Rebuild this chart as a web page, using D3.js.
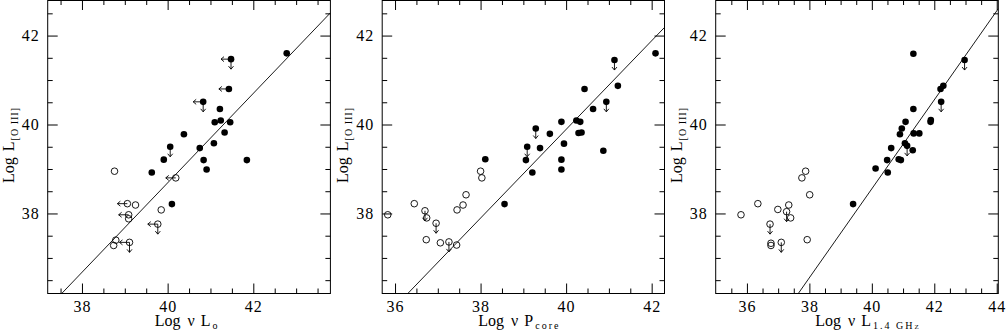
<!DOCTYPE html>
<html>
<head>
<meta charset="utf-8">
<script src="https://cdn.jsdelivr.net/npm/d3@7"></script>
<style>
  body { margin: 0; background: #fff; }
  svg { display: block; background: #fff; font-family: 'Liberation Serif', 'Times New Roman', serif; }
  .tick text { font-family: 'Liberation Serif', 'Times New Roman', serif; font-size: 16px; letter-spacing: 1px; fill: #000; }
  .tick line { stroke: #000; stroke-width: 1; }
  .frame { fill: none; stroke: #000; stroke-width: 1; }
  .fit { fill: none; stroke: #000; stroke-width: 0.9; }
  .limit { fill: none; stroke: #000; stroke-width: 0.9; }
  .title { font-size: 16px; fill: #000; white-space: pre; }
</style>
</head>
<body>
<svg id="chart" width="1007" height="330"></svg>
<script>
/*
  Three panels: log L[O III] against log nu L_o, log nu P_core and log nu L_1.4GHz
  Filled = detected, open = the other sample; L / D flag an upper limit on x / y
*/

// rows: [log x, log L[O III], limit flags]
const loDetected = [
  [42.78, 41.60, ''], [41.48, 41.47, 'LD'], [41.43, 40.80, 'L'], [40.83, 40.51, 'LD'],
  [41.22, 40.35, ''], [41.10, 40.05, ''], [41.24, 40.09, ''], [41.46, 40.05, ''],
  [40.38, 39.78, ''], [41.33, 39.82, ''], [40.06, 39.50, 'D'], [41.08, 39.58, ''],
  [40.75, 39.47, ''], [39.91, 39.21, ''], [40.84, 39.20, ''], [41.85, 39.20, ''],
  [39.63, 38.92, ''], [40.91, 38.99, ''], [40.10, 38.21, '']
];
const loOpen = [
  [38.76, 38.95, ''], [40.19, 38.80, 'L'], [39.06, 38.22, 'L'], [39.25, 38.19, ''],
  [39.85, 38.08, ''], [39.09, 37.97, 'L'], [39.09, 37.88, ''], [39.77, 37.76, 'LD'],
  [38.79, 37.40, ''], [38.74, 37.28, ''], [39.11, 37.35, 'LD']
];

const pcoreDetected = [
  [42.09, 41.60, ''], [41.13, 41.45, 'D'], [41.21, 40.87, ''], [40.43, 40.80, ''],
  [40.94, 40.51, 'D'], [40.63, 40.35, ''], [39.89, 40.06, ''], [40.24, 40.09, ''],
  [40.33, 40.06, ''], [40.29, 39.81, ''], [40.36, 39.82, ''], [39.62, 39.79, ''],
  [39.29, 39.91, 'D'], [39.95, 39.57, ''], [39.39, 39.47, ''], [39.09, 39.50, 'D'],
  [39.06, 39.20, ''], [39.89, 39.21, ''], [40.87, 39.41, ''], [38.11, 39.22, ''],
  [39.21, 38.92, ''], [39.89, 38.99, ''], [38.56, 38.21, '']
];
const pcoreOpen = [
  [35.83, 37.97, ''], [36.45, 38.22, ''], [36.70, 38.06, 'D'], [36.74, 37.90, ''],
  [36.96, 37.78, 'D'], [36.73, 37.41, ''], [37.06, 37.34, ''], [37.26, 37.36, 'D'],
  [37.44, 37.29, ''], [37.45, 38.08, ''], [37.59, 38.19, ''], [37.66, 38.42, ''],
  [38.00, 38.95, ''], [38.03, 38.80, '']
];

const radioDetected = [
  [41.33, 41.59, ''], [42.97, 41.45, 'D'], [42.29, 40.87, ''], [42.20, 40.80, ''],
  [42.22, 40.51, 'D'], [41.33, 40.35, ''], [41.89, 40.10, ''], [41.88, 40.06, ''],
  [41.08, 40.06, ''], [40.96, 39.91, ''], [40.90, 39.78, ''], [41.34, 39.80, ''],
  [41.52, 39.80, ''], [40.62, 39.47, ''], [41.06, 39.58, ''], [41.13, 39.52, 'D'],
  [41.31, 39.42, ''], [40.49, 39.20, ''], [40.86, 39.22, ''], [40.93, 39.20, ''],
  [40.12, 39.01, ''], [40.51, 38.92, ''], [39.40, 38.21, '']
];
const radioOpen = [
  [35.81, 37.97, ''], [36.35, 38.22, ''], [36.99, 38.09, ''], [37.34, 38.19, ''],
  [37.27, 38.04, 'D'], [37.40, 37.90, ''], [36.74, 37.76, 'D'], [36.77, 37.33, ''],
  [36.77, 37.28, ''], [37.10, 37.35, 'D'], [37.93, 37.41, ''], [38.01, 38.42, ''],
  [37.88, 38.95, ''], [37.76, 38.80, '']
];

// straight-line fits, one per panel
const fitSlopes = [1.006, 0.997, 1.0];
const fitIntercepts = [-1.552, 0.01, -1.445];

const yTickLabels = [38, 40, 42];
const xTickLabels = [[38, 40, 42], [36, 38, 40, 42], [36, 38, 40, 42, 44]];
const xLetters = ['L', 'P', 'L'];
const xSubscripts = ['o', 'core', '1.4 GHz'];

const panels = [
  { xDomain: [37.2, 43.8], left: 47.7, right: 330.4, titleShift: -3, detected: loDetected, open: loOpen },
  { xDomain: [35.7, 42.3], left: 382.2, right: 664.5, titleShift: -4, detected: pcoreDetected, open: pcoreOpen },
  { xDomain: [35, 44.05], left: 715.7, right: 998.3, titleShift: 11, detected: radioDetected, open: radioOpen }
];

const MAJOR = 10;
const MINOR = 5;
const ARROW = 10;

const svg = d3.select('#chart');

const y = d3.scaleLinear()
  .domain([36.2, 42.8])
  .range([293.5, 0]);

const yMinor = d3.range(36.5, 42.8, 0.5).filter(v => !yTickLabels.includes(v));

panels.forEach((p, i) => drawPanel(p, i));

/**
 * Draw one panel: frame, ticks, fit line, points and titles
 */
function drawPanel(p, i) {
  const x = d3.scaleLinear()
    .domain(p.xDomain)
    .range([p.left, p.right]);

  const g = svg.append('g').attr('class', 'panel');
  const top = y.range()[1];
  const bottom = y.range()[0];

  const xMajor = xTickLabels[i];
  const xMinor = d3.range(Math.ceil(p.xDomain[0] * 2) / 2, p.xDomain[1], 0.5)
    .filter(v => !xMajor.includes(v) && v > p.xDomain[0]);

  /*
   * Ticks on all four sides, pointing inwards
   */
  const axes = [
    { a: d3.axisBottom(x).tickValues(xMajor).tickSize(-MAJOR).tickPadding(7).tickFormat(d3.format('d')), t: `translate(0,${bottom})` },
    { a: d3.axisBottom(x).tickValues(xMinor).tickSize(-MINOR).tickFormat(''), t: `translate(0,${bottom})` },
    { a: d3.axisTop(x).tickValues(xMajor).tickSize(-MAJOR).tickFormat(''), t: `translate(0,${top})` },
    { a: d3.axisTop(x).tickValues(xMinor).tickSize(-MINOR).tickFormat(''), t: `translate(0,${top})` },
    { a: d3.axisLeft(y).tickValues(yTickLabels).tickSize(-MAJOR).tickPadding(8).tickFormat(d3.format('d')), t: `translate(${p.left},0)` },
    { a: d3.axisLeft(y).tickValues(yMinor).tickSize(-MINOR).tickFormat(''), t: `translate(${p.left},0)` },
    { a: d3.axisRight(y).tickValues(yTickLabels).tickSize(-MAJOR).tickFormat(''), t: `translate(${p.right},0)` },
    { a: d3.axisRight(y).tickValues(yMinor).tickSize(-MINOR).tickFormat(''), t: `translate(${p.right},0)` }
  ];

  axes.forEach(d => {
    const ax = g.append('g').attr('transform', d.t).call(d.a);
    ax.select('.domain').remove();
  });

  g.append('rect')
    .attr('class', 'frame')
    .attr('x', p.left)
    .attr('y', top + 0.5)
    .attr('width', p.right - p.left)
    .attr('height', bottom - top - 0.5);

  /*
   * Fit line, clipped to the frame
   */
  const clipId = `clip-${i}`;
  svg.append('clipPath').attr('id', clipId)
    .append('rect')
    .attr('x', p.left).attr('y', top)
    .attr('width', p.right - p.left).attr('height', bottom - top);

  const line = d3.line()
    .x(d => x(d))
    .y(d => y(fitSlopes[i] * d + fitIntercepts[i]));

  g.append('path')
    .attr('class', 'fit')
    .attr('clip-path', `url(#${clipId})`)
    .attr('d', line(p.xDomain));

  /*
   * Upper-limit arrows, then the points on top
   */
  const all = p.detected.concat(p.open);

  g.selectAll('path.limit')
    .data(all.filter(d => d[2] !== ''))
    .join('path')
    .attr('class', 'limit')
    .attr('d', d => limitPath(x(d[0]), y(d[1]), d[2]));

  g.selectAll('circle.open')
    .data(p.open)
    .join('circle')
    .attr('class', 'open')
    .attr('cx', d => x(d[0]))
    .attr('cy', d => y(d[1]))
    .attr('r', 3.3)
    .attr('fill', 'none')
    .attr('stroke', '#000')
    .attr('stroke-width', 0.9);

  g.selectAll('circle.det')
    .data(p.detected)
    .join('circle')
    .attr('class', 'det')
    .attr('cx', d => x(d[0]))
    .attr('cy', d => y(d[1]))
    .attr('r', 3.3)
    .attr('fill', '#000');

  /*
   * Axis titles
   */
  const xt = g.append('text')
    .attr('class', 'title')
    .attr('x', (p.left + p.right) / 2 + p.titleShift)
    .attr('y', 326)
    .attr('text-anchor', 'middle');
  xt.append('tspan').text('Log');
  xt.append('tspan').attr('dx', 7).text('ν');
  xt.append('tspan').attr('dx', 6).text(xLetters[i]);
  xt.append('tspan')
    .attr('dx', 2)
    .attr('dy', 3)
    .attr('font-size', 10)
    .attr('letter-spacing', i === 0 ? 0 : 2)
    .style('font-variant', i === 2 ? 'small-caps' : 'normal')
    .text(xSubscripts[i]);

  const yt = g.append('text')
    .attr('class', 'title')
    .attr('transform', `translate(${p.left - 34},145) rotate(-90)`)
    .attr('text-anchor', 'middle');
  yt.append('tspan').text('Log');
  yt.append('tspan').attr('dx', 6).text('L');
  yt.append('tspan')
    .attr('dx', 1)
    .attr('dy', 4)
    .attr('font-size', 10)
    .attr('letter-spacing', 1)
    .style('font-variant', 'small-caps')
    .text('[O III]');
}

/**
 * Arrow path for an upper limit: L points left, D points down
 */
function limitPath(cx, cy, flags) {
  let d = '';
  const h = 3;
  if (flags.includes('L')) {
    d += `M${cx},${cy}L${cx - ARROW},${cy}`;
    d += `M${cx - ARROW + h},${cy - 2.5}L${cx - ARROW},${cy}L${cx - ARROW + h},${cy + 2.5}`;
  }
  if (flags.includes('D')) {
    d += `M${cx},${cy}L${cx},${cy + ARROW}`;
    d += `M${cx - 2.5},${cy + ARROW - h}L${cx},${cy + ARROW}L${cx + 2.5},${cy + ARROW - h}`;
  }
  return d;
}
</script>
</body>
</html>
